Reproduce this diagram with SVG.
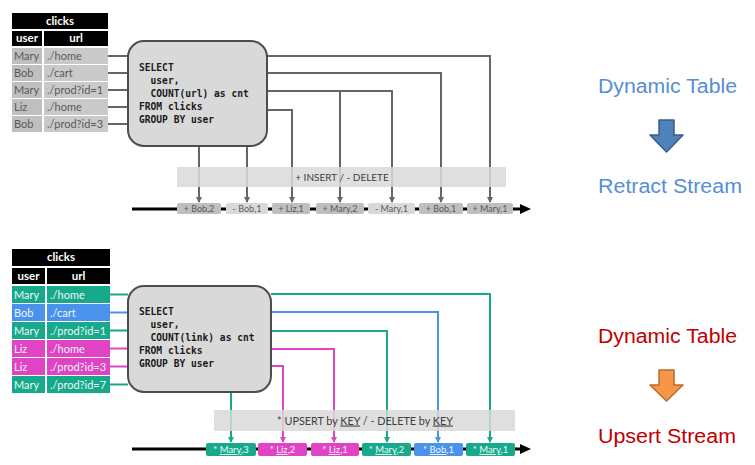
<svg xmlns="http://www.w3.org/2000/svg" width="755" height="465" viewBox="0 0 755 465">
<style>
.hdr{fill:#000}
.hdrt{font-family:Lato,"Open Sans",sans-serif;font-weight:bold;font-size:11.5px;fill:#fff;text-anchor:middle}
.cell{font-family:Lato,"Open Sans",sans-serif;font-size:11px;fill:#595959}
.cellw{font-family:Lato,"Open Sans",sans-serif;font-size:11px;fill:#eef6f4}
.g1{fill:#bfbfbf}
.g2{fill:#c9c9c9}
.sql{fill:#d9d9d9;stroke:#4d4d4d;stroke-width:2}
.sqlt{font-family:"DejaVu Sans Mono","Liberation Mono",monospace;font-weight:bold;font-size:9.6px;fill:#1a1a1a}
.gl{fill:none;stroke:#666;stroke-width:2}
.teal{fill:none;stroke:#17a98b;stroke-width:2}
.blue{fill:none;stroke:#4a92ec;stroke-width:2}
.mag{fill:none;stroke:#e044c4;stroke-width:2}
.bar{fill:#d9d9d9;opacity:0.85}
.bart{font-family:Lato,"Open Sans",sans-serif;font-size:10px;fill:#404040;text-anchor:middle}
.bart2{font-family:Lato,"Open Sans",sans-serif;font-size:10.8px;fill:#404040;text-anchor:middle}
.stream{stroke:#000;stroke-width:3;fill:none}
.it{font-family:Lato,"Open Sans",sans-serif;font-size:9px;fill:#595959;text-anchor:middle}
.itw{font-family:Lato,"Open Sans",sans-serif;font-size:9.5px;fill:#f0f8f6;text-anchor:middle}
.side{font-family:"Liberation Sans",Arial,sans-serif;font-size:20px}
</style>
<defs>
<marker id="ag" markerWidth="6" markerHeight="6" refX="5" refY="3" orient="auto" markerUnits="userSpaceOnUse"><path d="M0,0 L6,3 L0,6 Z" fill="#666"/></marker>
<marker id="at" markerWidth="6" markerHeight="6" refX="5" refY="3" orient="auto" markerUnits="userSpaceOnUse"><path d="M0,0 L6,3 L0,6 Z" fill="#17a98b"/></marker>
<marker id="ab" markerWidth="6" markerHeight="6" refX="5" refY="3" orient="auto" markerUnits="userSpaceOnUse"><path d="M0,0 L6,3 L0,6 Z" fill="#4a92ec"/></marker>
<marker id="am" markerWidth="6" markerHeight="6" refX="5" refY="3" orient="auto" markerUnits="userSpaceOnUse"><path d="M0,0 L6,3 L0,6 Z" fill="#e044c4"/></marker>
<marker id="ak" markerWidth="12" markerHeight="10" refX="1" refY="5" orient="auto" markerUnits="userSpaceOnUse"><path d="M0,0 L11,5 L0,10 Z" fill="#000"/></marker>
</defs>

<g id="connectors">
<g class="gl">
<path d="M108,56 H128"/><path d="M108,73 H128"/><path d="M108,90 H128"/><path d="M108,107 H128"/><path d="M108,124 H128"/>
<path d="M267,56 H490 V202" marker-end="url(#ag)"/>
<path d="M267,73 H441 V202" marker-end="url(#ag)"/>
<path d="M267,91 H392 V202" marker-end="url(#ag)"/>
<path d="M340,91 V202" marker-end="url(#ag)"/>
<path d="M267,110 H292 V202" marker-end="url(#ag)"/>
<path d="M199,146 V202" marker-end="url(#ag)"/>
<path d="M247,146 V202" marker-end="url(#ag)"/>
</g>
<path class="teal" d="M110,294.5 H128"/>
<path class="blue" d="M110,312.5 H128"/>
<path class="teal" d="M110,330.5 H128"/>
<path class="mag" d="M110,348.5 H128"/>
<path class="mag" d="M110,366.5 H128"/>
<path class="teal" d="M110,384.5 H128"/>
<path class="teal" d="M271,294 H490 V442" marker-end="url(#at)"/>
<path class="blue" d="M271,312 H438 V442" marker-end="url(#ab)"/>
<path class="teal" d="M271,331 H387 V442" marker-end="url(#at)"/>
<path class="mag" d="M271,349 H334 V442" marker-end="url(#am)"/>
<path class="mag" d="M271,366 H283 V442" marker-end="url(#am)"/>
<path class="teal" d="M231,392 V442" marker-end="url(#at)"/>
<path class="stream" d="M132,209 H521" marker-end="url(#ak)"/>
<path class="stream" d="M132,449 H521" marker-end="url(#ak)"/>
</g>

<g id="table1">
<rect class="hdr" x="12" y="13" width="96" height="16"/>
<text class="hdrt" x="60" y="25">clicks</text>
<rect class="hdr" x="12" y="31" width="30" height="15"/>
<rect class="hdr" x="44" y="31" width="64" height="15"/>
<text class="hdrt" x="27" y="42">user</text>
<text class="hdrt" x="76" y="42">url</text>
<rect class="g1" x="12" y="48" width="30" height="16"/><rect class="g2" x="44" y="48" width="64" height="16"/>
<rect class="g1" x="12" y="65" width="30" height="16"/><rect class="g2" x="44" y="65" width="64" height="16"/>
<rect class="g1" x="12" y="82" width="30" height="16"/><rect class="g2" x="44" y="82" width="64" height="16"/>
<rect class="g1" x="12" y="99" width="30" height="16"/><rect class="g2" x="44" y="99" width="64" height="16"/>
<rect class="g1" x="12" y="116" width="30" height="16"/><rect class="g2" x="44" y="116" width="64" height="16"/>
<text class="cell" x="14" y="60">Mary</text><text class="cell" x="47" y="60">./home</text>
<text class="cell" x="14" y="77">Bob</text><text class="cell" x="47" y="77">./cart</text>
<text class="cell" x="14" y="94">Mary</text><text class="cell" x="47" y="94">./prod?id=1</text>
<text class="cell" x="14" y="111">Liz</text><text class="cell" x="47" y="111">./home</text>
<text class="cell" x="14" y="128">Bob</text><text class="cell" x="47" y="128">./prod?id=3</text>
</g>

<g id="query1">
<rect class="sql" x="128" y="41" width="139" height="105" rx="16"/>
<text class="sqlt" x="139" y="71">SELECT</text>
<text class="sqlt" x="139" y="84" xml:space="preserve">  user,</text>
<text class="sqlt" x="139" y="97" xml:space="preserve">  COUNT(url) as cnt</text>
<text class="sqlt" x="139" y="110">FROM clicks</text>
<text class="sqlt" x="139" y="123">GROUP BY user</text>
</g>

<g id="bar1">
<rect class="bar" x="177" y="167" width="329" height="20"/>
<text class="bart" x="342" y="181">+ INSERT / - DELETE</text>
</g>

<g id="stream1">
<rect x="177" y="203" width="44" height="11" rx="2" fill="#bfbfbf"/><text class="it" x="199" y="212">+ Bob,2</text>
<rect x="226" y="203" width="42" height="11" rx="2" fill="#d9d9d9"/><text class="it" x="247" y="212">- Bob,1</text>
<rect x="272" y="203" width="38" height="11" rx="2" fill="#bfbfbf"/><text class="it" x="291" y="212">+ Liz,1</text>
<rect x="316" y="203" width="48" height="11" rx="2" fill="#bfbfbf"/><text class="it" x="340" y="212">+ Mary,2</text>
<rect x="368" y="203" width="47" height="11" rx="2" fill="#d9d9d9"/><text class="it" x="391.5" y="212">- Mary,1</text>
<rect x="419" y="203" width="44" height="11" rx="2" fill="#bfbfbf"/><text class="it" x="441" y="212">+ Bob,1</text>
<rect x="467" y="203" width="46" height="11" rx="2" fill="#bfbfbf"/><text class="it" x="490" y="212">+ Mary,1</text>
</g>

<g id="table2">
<rect class="hdr" x="12" y="249" width="98" height="17"/>
<text class="hdrt" x="61" y="261">clicks</text>
<rect class="hdr" x="12" y="268" width="33" height="16"/>
<rect class="hdr" x="47" y="268" width="63" height="16"/>
<text class="hdrt" x="28.5" y="280">user</text>
<text class="hdrt" x="78.5" y="280">url</text>
<g fill="#17a98b">
<rect x="12" y="286" width="33" height="17"/><rect x="47" y="286" width="63" height="17"/>
<rect x="12" y="322" width="33" height="17"/><rect x="47" y="322" width="63" height="17"/>
<rect x="12" y="376" width="33" height="17"/><rect x="47" y="376" width="63" height="17"/>
</g>
<g fill="#4a92ec">
<rect x="12" y="304" width="33" height="17"/><rect x="47" y="304" width="63" height="17"/>
</g>
<g fill="#e044c4">
<rect x="12" y="340" width="33" height="17"/><rect x="47" y="340" width="63" height="17"/>
<rect x="12" y="358" width="33" height="17"/><rect x="47" y="358" width="63" height="17"/>
</g>
<text class="cellw" x="14" y="298.5">Mary</text><text class="cellw" x="50" y="298.5">./home</text>
<text class="cellw" x="14" y="316.5">Bob</text><text class="cellw" x="50" y="316.5">./cart</text>
<text class="cellw" x="14" y="334.5">Mary</text><text class="cellw" x="50" y="334.5">./prod?id=1</text>
<text class="cellw" x="14" y="352.5">Liz</text><text class="cellw" x="50" y="352.5">./home</text>
<text class="cellw" x="14" y="370.5">Liz</text><text class="cellw" x="50" y="370.5">./prod?id=3</text>
<text class="cellw" x="14" y="388.5">Mary</text><text class="cellw" x="50" y="388.5">./prod?id=7</text>
</g>

<g id="query2">
<rect class="sql" x="128" y="286" width="143" height="106" rx="16"/>
<text class="sqlt" x="139" y="315">SELECT</text>
<text class="sqlt" x="139" y="328" xml:space="preserve">  user,</text>
<text class="sqlt" x="139" y="341" xml:space="preserve">  COUNT(link) as cnt</text>
<text class="sqlt" x="139" y="354">FROM clicks</text>
<text class="sqlt" x="139" y="367">GROUP BY user</text>
</g>

<g id="bar2">
<rect class="bar" x="214" y="410" width="301" height="21"/>
<text class="bart2" x="365" y="424.5">* UPSERT by <tspan text-decoration="underline">KEY</tspan> / - DELETE by <tspan text-decoration="underline">KEY</tspan></text>
</g>

<g id="stream2">
<rect x="206" y="443" width="50" height="13" rx="2" fill="#17a98b"/><text class="itw" x="231" y="453">* <tspan text-decoration="underline">Mary</tspan>,3</text>
<rect x="258" y="443" width="49" height="13" rx="2" fill="#e044c4"/><text class="itw" x="282.5" y="453">* <tspan text-decoration="underline">Liz</tspan>,2</text>
<rect x="311" y="443" width="48" height="13" rx="2" fill="#e044c4"/><text class="itw" x="335" y="453">* <tspan text-decoration="underline">Liz</tspan>,1</text>
<rect x="362" y="443" width="49" height="13" rx="2" fill="#17a98b"/><text class="itw" x="386.5" y="453">* <tspan text-decoration="underline">Mary</tspan>,2</text>
<rect x="414" y="443" width="49" height="13" rx="2" fill="#4a92ec"/><text class="itw" x="438.5" y="453">* <tspan text-decoration="underline">Bob</tspan>,1</text>
<rect x="466" y="443" width="49" height="13" rx="2" fill="#17a98b"/><text class="itw" x="490.5" y="453">* <tspan text-decoration="underline">Mary</tspan>,1</text>
</g>

<g id="legend1">
<text class="side" x="598" y="93" fill="#558ed5" textLength="139" lengthAdjust="spacingAndGlyphs">Dynamic Table</text>
<polygon points="659,120 674,120 674,135 683,135 666.5,152 650,135 659,135" fill="#4f81bd" stroke="#385d8a" stroke-width="1.5" stroke-linejoin="round"/>
<text class="side" x="598" y="193" fill="#558ed5" textLength="144" lengthAdjust="spacingAndGlyphs">Retract Stream</text>
</g>

<g id="legend2">
<text class="side" x="598" y="343" fill="#c00000" textLength="139" lengthAdjust="spacingAndGlyphs">Dynamic Table</text>
<polygon points="659,370 674,370 674,385 683,385 666.5,401 650,385 659,385" fill="#f79646" stroke="#b66d31" stroke-width="1.5" stroke-linejoin="round"/>
<text class="side" x="598" y="443" fill="#c00000" textLength="138" lengthAdjust="spacingAndGlyphs">Upsert Stream</text>
</g>
</svg>
